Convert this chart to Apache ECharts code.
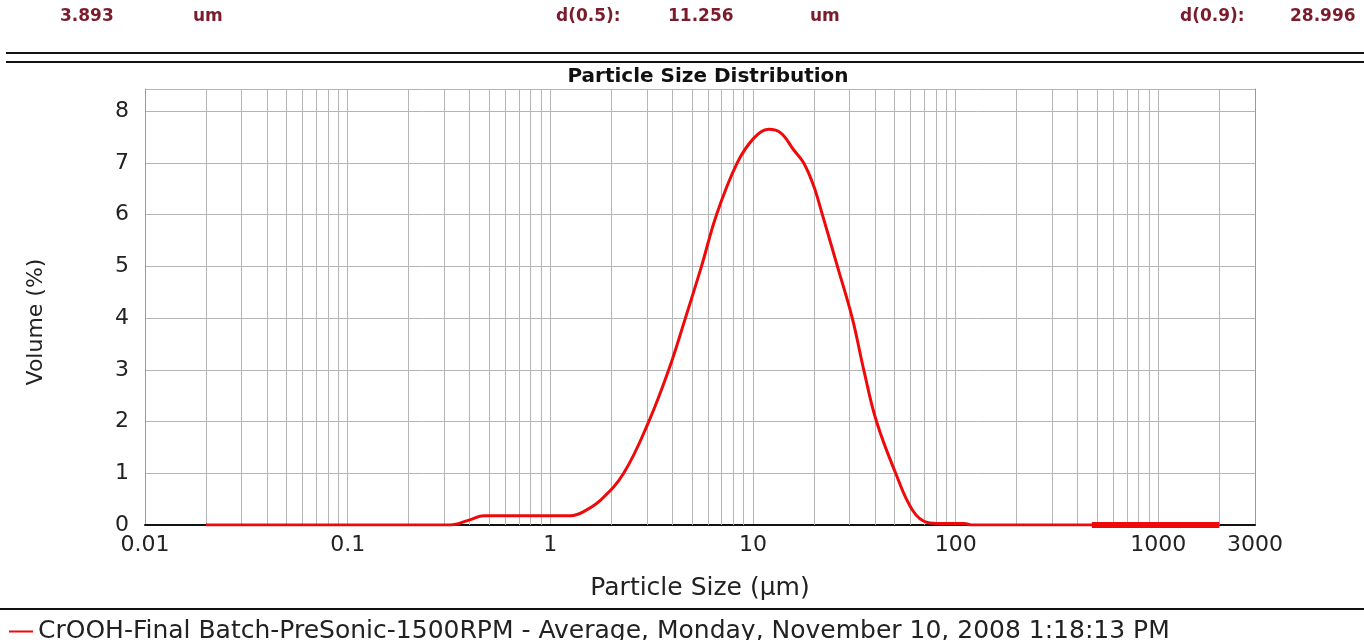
<!DOCTYPE html>
<html>
<head>
<meta charset="utf-8">
<title>Particle Size Distribution</title>
<script src="https://cdn.jsdelivr.net/npm/echarts@6.0.0/dist/echarts.min.js"></script>
<style>
  html, body { margin: 0; padding: 0; background: #fff; }
  #main { width: 1364px; height: 640px; }
</style>
</head>
<body>
<div id="main"></div>
<script>
// particle size (um) and volume (%)
var sizes = [0.02, 0.32, 0.40, 0.47, 1.26, 1.46, 1.77, 2.30, 3.06, 3.84, 4.64, 5.57, 6.61,
  8.36, 10.1, 11.97, 13.7, 15.9, 17.8, 19.96, 22.0, 26.1, 30.9, 35.2, 40.7, 50.6,
  61.4, 72.5, 84.3, 110, 120, 2000];
var volumes = [0, 0, 0.10, 0.18, 0.18, 0.26, 0.48, 1.0, 2.0, 3.0, 4.0, 5.0, 6.0,
  7.0, 7.48, 7.65, 7.58, 7.25, 7.0, 6.55, 6.0, 5.0, 4.0, 3.0, 2.0, 1.0,
  0.28, 0.05, 0.03, 0.03, 0, 0];
// thick flat piece at the coarse end
var tailSizes = [470, 2000];
var tailVolumes = [0, 0];

var seriesName = 'CrOOH-Final Batch-PreSonic-1500RPM - Average, Monday, November 10, 2008 1:18:13 PM';
var header = [
  { text: '3.893', x: 60 },
  { text: 'um', x: 193 },
  { text: 'd(0.5):', x: 556 },
  { text: '11.256', x: 668 },
  { text: 'um', x: 810 },
  { text: 'd(0.9):', x: 1180 },
  { text: '28.996', x: 1290 }
];
var xMin = 0.01, xMax = 3000, yMax = 8.43;

var FONT = '"DejaVu Sans", "Liberation Sans", Arial, sans-serif';

function pairs(xs, ys) {
  return xs.map(function (x, i) { return [x, ys[i]]; });
}

// minor log gridlines 2..9 x 10^n
var minorLines = [];
for (var d = -2; d <= 3; d++) {
  for (var k = 2; k <= 9; k++) {
    var v = k * Math.pow(10, d);
    if (v > xMin && v < xMax) minorLines.push({ xAxis: v });
  }
}

var graphics = header.map(function (h) {
  return {
    type: 'text', left: h.x, top: 8,
    style: { text: h.text, font: 'bold 17px ' + FONT, fill: '#7b1c2c' }
  };
});
graphics.push(
  { type: 'line', shape: { x1: 6, y1: 53, x2: 1364, y2: 53 }, style: { stroke: '#111', lineWidth: 2 } },
  { type: 'line', shape: { x1: 6, y1: 62, x2: 1364, y2: 62 }, style: { stroke: '#111', lineWidth: 2 } },
  { type: 'line', shape: { x1: 0, y1: 609, x2: 1364, y2: 609 }, style: { stroke: '#111', lineWidth: 2 } },
  {
    type: 'text', x: 708, y: 77,
    style: { text: 'Particle Size Distribution', font: 'bold 20px ' + FONT, fill: '#111',
      textAlign: 'center', textVerticalAlign: 'middle' }
  }
);

var chartDom = document.getElementById('main');
var myChart = echarts.init(chartDom, null, { renderer: 'canvas' });
var option = {
  animation: false,
  backgroundColor: '#fff',
  grid: { left: 145, right: 109, top: 89, bottom: 115, containLabel: false },
  legend: {
    data: [seriesName],
    left: 4, top: 614,
    icon: 'rect', itemWidth: 24, itemHeight: 2, itemGap: 4,
    textStyle: { fontFamily: FONT, fontSize: 25, color: '#222' }
  },
  xAxis: [{
    type: 'log', logBase: 10, min: xMin, max: xMax,
    name: 'Particle Size (µm)', nameLocation: 'middle', nameGap: 51,
    nameTextStyle: { fontFamily: FONT, fontSize: 25, color: '#222' },
    axisLine: { lineStyle: { color: '#9a9a9a', width: 1 } },
    axisTick: { show: false },
    axisLabel: {
      fontFamily: FONT, fontSize: 22, color: '#222', margin: 9,
      formatter: function (v) { return String(Number(v.toPrecision(3))); }
    },
    splitLine: { show: true, lineStyle: { color: '#b5b5b5', width: 1 } }
  }, {
    // top border of the plot
    type: 'log', logBase: 10, min: xMin, max: xMax, position: 'top',
    axisLine: { show: true, lineStyle: { color: '#111', width: 2 } },
    axisTick: { show: false }, axisLabel: { show: false }, splitLine: { show: false }
  }],
  yAxis: [{
    type: 'value', min: 0, max: yMax, interval: 1,
    name: 'Volume (%)', nameLocation: 'middle', nameGap: 98, nameRotate: 90,
    nameTextStyle: { fontFamily: FONT, fontSize: 22, color: '#222', padding: [0, 30, 0, 0] },
    axisLine: { show: true, lineStyle: { color: '#9a9a9a', width: 1 } },
    axisTick: { show: false },
    axisLabel: {
      fontFamily: FONT, fontSize: 22, color: '#222', margin: 16,
      formatter: function (v) { return Number.isInteger(v) ? String(v) : ''; }
    },
    splitLine: { show: true, lineStyle: { color: '#b5b5b5', width: 1 } }
  }, {
    // right border of the plot
    type: 'value', min: 0, max: yMax, position: 'right',
    axisLine: { show: true, lineStyle: { color: '#9a9a9a', width: 1 } },
    axisTick: { show: false }, axisLabel: { show: false }, splitLine: { show: false }
  }],
  series: [{
    name: 'minor grid',
    type: 'line',
    data: [[xMin, 0]],
    showSymbol: false,
    lineStyle: { opacity: 0 },
    silent: true,
    z: 1,
    markLine: {
      silent: true,
      symbol: 'none',
      label: { show: false },
      lineStyle: { color: '#b5b5b5', width: 1, type: 'solid' },
      emphasis: { disabled: true },
      data: minorLines
    }
  }, {
    name: seriesName,
    type: 'line',
    data: pairs(sizes, volumes),
    showSymbol: false,
    smooth: 0.4,
    itemStyle: { color: '#ee0a0a' },
    lineStyle: { color: '#ee0a0a', width: 3 },
    z: 5
  }, {
    name: 'tail',
    type: 'line',
    data: pairs(tailSizes, tailVolumes),
    showSymbol: false,
    lineStyle: { color: '#ee0a0a', width: 6 },
    z: 5
  }],
  graphic: graphics
};
myChart.setOption(option);
</script>
</body>
</html>
